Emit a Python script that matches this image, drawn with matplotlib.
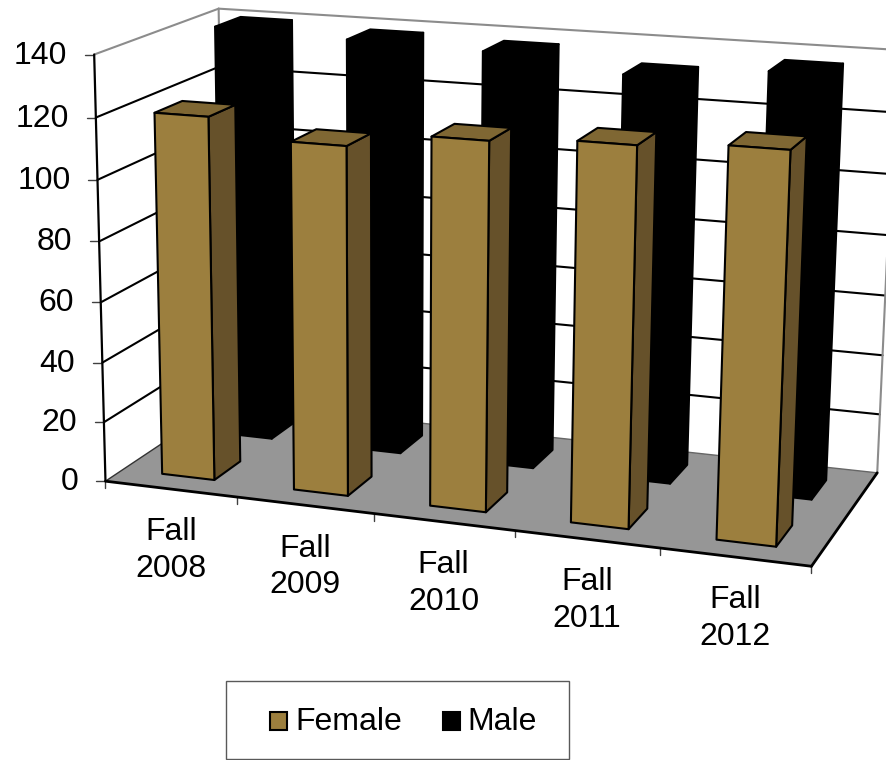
import numpy as np
import matplotlib
matplotlib.use("Agg")
import matplotlib.pyplot as plt
from matplotlib.patches import Polygon, Rectangle

plt.rcParams['font.family'] = ['Liberation Sans', 'DejaVu Sans']

# data
categories = ["Fall\n2008", "Fall\n2009", "Fall\n2010", "Fall\n2011", "Fall\n2012"]
female = [120, 114, 119, 121, 123]
male = [140, 138.5, 137.5, 133, 137]
y_ticks = [0, 20, 40, 60, 80, 100, 120, 140]

Y_MAX = 140
N = len(categories)

# where the corners of the 3d box land in the picture, used to fit the camera
box_world = [(0, 0, 0), (1, 0, 0), (0, 1, 0), (1, 1, 0), (0, 0, 1), (0, 1, 1), (1, 1, 1)]
box_pixel = [(108, 481), (811, 567), (222, 402), (878, 472), (92, 54), (221, 9), (896, 50)]

# fit a 3x4 projection matrix (least squares)
rows = []
for (a, b, c), (px, py) in zip(box_world, box_pixel):
    rows.append([a, b, c, 1, 0, 0, 0, 0, -px * a, -px * b, -px * c, -px])
    rows.append([0, 0, 0, 0, a, b, c, 1, -py * a, -py * b, -py * c, -py])
cam = np.linalg.svd(np.array(rows, dtype=float))[2][-1].reshape(3, 4)


def proj(cat, depth, val):
    p = cam @ np.array([cat / N, depth, val / Y_MAX, 1.0])
    return p[0] / p[2], p[1] / p[2]


fig = plt.figure(figsize=(8.86, 7.6), dpi=100)
ax = fig.add_axes([0, 0, 1, 1])
ax.set_xlim(0, 886)
ax.set_ylim(760, 0)
ax.axis("off")


def face(points, color, edge="black", lw=1.5, z=2):
    ax.add_patch(Polygon(points, closed=True, facecolor=color, edgecolor=edge,
                         linewidth=lw, joinstyle="round", zorder=z))


def line(a, b, color="black", lw=1.5, z=1):
    ax.plot([a[0], b[0]], [a[1], b[1]], color=color, lw=lw, zorder=z, solid_capstyle="round")


# floor
face([proj(0, 0, 0), proj(N, 0, 0), proj(N, 1, 0), proj(0, 1, 0)], "#969696", edge="none", z=1)

# gridlines on both walls
for v in y_ticks[1:-1]:
    line(proj(0, 0, v), proj(0, 1, v))
    line(proj(0, 1, v), proj(N, 1, v))

# wall outline
gray = "#8c8c8c"
line(proj(0, 0, Y_MAX), proj(0, 1, Y_MAX), color=gray)
line(proj(0, 1, Y_MAX), proj(N, 1, Y_MAX), color=gray)
line(proj(0, 1, 0), proj(0, 1, Y_MAX), color=gray)
line(proj(N, 1, 0), proj(N, 1, Y_MAX), color=gray)
line(proj(0, 0, 0), proj(0, 1, 0), color="#333333", lw=1.0)
line(proj(0, 1, 0), proj(N, 1, 0), color="#666666", lw=1.0)

# front axes
line(proj(0, 0, 0), proj(0, 0, Y_MAX), lw=1.6, z=1.5)
line(proj(0, 0, 0), proj(N, 0, 0), lw=2.0, z=1.5)
line(proj(N, 0, 0), proj(N, 1, 0), lw=2.0, z=1.5)

# ticks and labels
for v in y_ticks:
    x, y = proj(0, 0, v)
    line((x - 9, y), (x, y), color="#404040", lw=1.0)
    ax.text(x - 27, y + 1, str(v), ha="right", va="center", fontsize=23, color="black")
for i in range(N + 1):
    x, y = proj(i, 0, 0)
    line((x, y), (x, y + 7), color="#404040", lw=1.0)
for i, name in enumerate(categories):
    x, y = proj(i + 0.5, 0, 0)
    ax.text(x, y + 61.5, name, ha="center", va="center", fontsize=23, color="black", linespacing=1.28)


def bar(i, val, d0, d1, front, side, top, z):
    u0, u1 = i + 0.3, i + 0.7
    face([proj(u1, d0, 0), proj(u1, d1, 0), proj(u1, d1, val), proj(u1, d0, val)], side, z=z)
    face([proj(u0, d0, val), proj(u1, d0, val), proj(u1, d1, val), proj(u0, d1, val)], top, z=z)
    face([proj(u0, d0, 0), proj(u1, d0, 0), proj(u1, d0, val), proj(u0, d0, val)], front, z=z)


for i, v in enumerate(male):
    bar(i, v, 0.64, 0.86, "black", "black", "black", 3)
for i, v in enumerate(female):
    bar(i, v, 0.14, 0.36, "#9c7f3e", "#66512a", "#7f6733", 4)

# legend
ax.add_patch(Rectangle((226, 681), 343, 78, facecolor="white", edgecolor="#595959", linewidth=1.0, zorder=5))
ax.add_patch(Rectangle((270, 712), 17, 18, facecolor="#9c7f3e", edgecolor="black", linewidth=1.5, zorder=6))
ax.add_patch(Rectangle((443, 712), 17, 18, facecolor="black", edgecolor="black", linewidth=1.5, zorder=6))
ax.text(295, 730, "Female", ha="left", va="baseline", fontsize=23, zorder=6)
ax.text(467, 730, "Male", ha="left", va="baseline", fontsize=23, zorder=6)

fig.savefig("out.png", dpi=100)
